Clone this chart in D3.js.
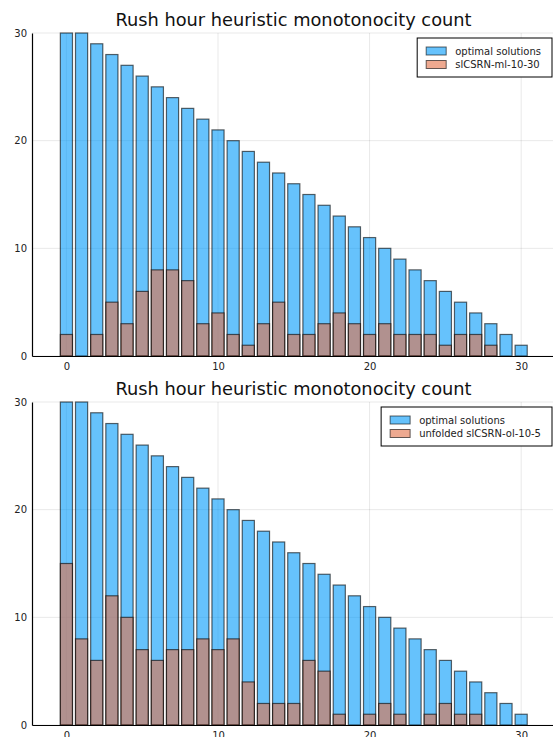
<!DOCTYPE html>
<html>
<head>
<meta charset="utf-8">
<script src="https://cdn.jsdelivr.net/npm/d3@7"></script>
<style>
  html, body { margin: 0; padding: 0; background: #fff; }
  svg { display: block; font-family: "DejaVu Sans", sans-serif; }
</style>
</head>
<body>
<script>
const categories = [0,1,2,3,4,5,6,7,8,9,10,11,12,13,14,15,16,17,18,19,20,21,22,23,24,25,26,27,28,29,30];
const optimalValues = [30,30,29,28,27,26,25,24,23,22,21,20,19,18,17,16,15,14,13,12,11,10,9,8,7,6,5,4,3,2,1];
const mlValues = [2,0,2,5,3,6,8,8,7,3,4,2,1,3,5,2,2,3,4,3,2,3,2,2,2,1,2,2,1,0,0];
const olValues = [15,8,6,12,10,7,6,7,7,8,7,8,4,2,2,2,6,5,1,0,1,2,1,0,1,2,1,1,0,0,0];
const titleText = "Rush hour heuristic monotonocity count";
const seriesNames1 = ["optimal solutions", "slCSRN-ml-10-30"];
const seriesNames2 = ["optimal solutions", "unfolded slCSRN-ol-10-5"];
const xTicks = [0, 10, 20, 30];
const yTicks = [0, 10, 20, 30];

const W = 553, H = 737;
const colors = ["#009afa", "#e26f46"];

const svg = d3.select("body").append("svg").attr("width", W).attr("height", H);

function panel(offsetY, secondValues, names) {
  const g = svg.append("g").attr("transform", `translate(0,${offsetY})`);
  const x = d3.scaleLinear().domain([-2.27, 32.1]).range([32, 553]);
  const y = d3.scaleLinear().domain([0, 30]).range([356, 33]);

  // grid
  g.append("g").selectAll("line.gx").data(xTicks).join("line")
    .attr("x1", d => x(d)).attr("x2", d => x(d))
    .attr("y1", y(0)).attr("y2", y(30))
    .attr("stroke", "#000").attr("stroke-opacity", 0.09).attr("stroke-width", 1);
  g.append("g").selectAll("line.gy").data(yTicks).join("line")
    .attr("x1", x.range()[0]).attr("x2", x.range()[1])
    .attr("y1", d => y(d)).attr("y2", d => y(d))
    .attr("stroke", "#000").attr("stroke-opacity", 0.09).attr("stroke-width", 1);

  // title
  g.append("text").attr("x", 293.5).attr("y", 26)
    .attr("text-anchor", "middle").attr("font-size", 17.8).attr("fill", "#111")
    .text(titleText);

  const series = [optimalValues, secondValues];
  series.forEach((vals, si) => {
    const data = categories.map((c, i) => ({c, v: vals[i]})).filter(d => d.v > 0);
    g.append("g").selectAll("rect").data(data).join("rect")
      .attr("x", d => x(d.c - 0.4))
      .attr("width", d => x(d.c + 0.4) - x(d.c - 0.4))
      .attr("y", d => y(d.v))
      .attr("height", d => y(0) - y(d.v))
      .attr("fill", colors[si]).attr("fill-opacity", 0.6)
      .attr("stroke", "#000").attr("stroke-opacity", 0.6).attr("stroke-width", 1.2);
  });

  // axes lines
  const xAxis = d3.axisBottom(x).tickValues(xTicks).tickFormat(d3.format("d")).tickSize(0).tickPadding(7);
  const gx = g.append("g").attr("transform", `translate(0,${y(0)})`).call(xAxis);
  gx.select(".domain").attr("stroke", "#000").attr("stroke-width", 1.2);
  gx.selectAll("text").attr("font-size", 10).attr("fill", "#222").attr("font-family", "DejaVu Sans");

  const yAxis = d3.axisLeft(y).tickValues(yTicks).tickFormat(d3.format("d")).tickSize(0).tickPadding(5);
  const gy = g.append("g").attr("transform", `translate(${x.range()[0]},0)`).call(yAxis);
  gy.select(".domain").attr("stroke", "#000").attr("stroke-width", 1.2);
  gy.selectAll("text").attr("font-size", 10).attr("fill", "#222").attr("font-family", "DejaVu Sans");

  // legend
  const lg = g.append("g");
  const texts = names.map((n, i) => lg.append("text").attr("font-size", 10).attr("fill", "#222").text(n));
  const maxW = d3.max(texts, t => t.node().getComputedTextLength());
  const boxW = 9 + 20 + 9 + maxW + 11;
  const boxX = 552 - boxW, boxY = 38, boxH = 39;
  lg.insert("rect", "text").attr("x", boxX).attr("y", boxY).attr("width", boxW).attr("height", boxH)
    .attr("fill", "#fff").attr("stroke", "#000").attr("stroke-width", 1);
  names.forEach((n, i) => {
    const cy = boxY + 13 + i * 13.5;
    lg.append("rect").attr("x", boxX + 9).attr("y", cy - 4).attr("width", 20).attr("height", 8)
      .attr("fill", colors[i]).attr("fill-opacity", 0.6)
      .attr("stroke", "#000").attr("stroke-opacity", 0.6).attr("stroke-width", 1);
    texts[i].attr("x", boxX + 38).attr("y", cy + 3.5);
  });
}

panel(0, mlValues, seriesNames1);
panel(369, olValues, seriesNames2);
</script>
</body>
</html>
